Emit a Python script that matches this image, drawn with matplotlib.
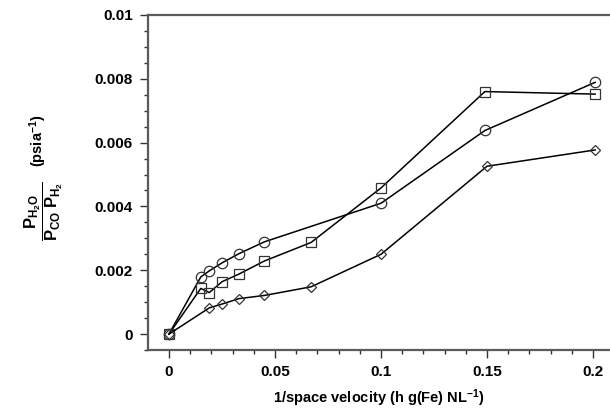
import matplotlib
matplotlib.use("Agg")
import matplotlib.pyplot as plt
from matplotlib.ticker import MultipleLocator, FuncFormatter

plt.rcParams['font.family'] = ['Liberation Sans', 'DejaVu Sans']
plt.rcParams['font.weight'] = 'bold'
plt.rcParams['mathtext.fontset'] = 'custom'
plt.rcParams['mathtext.rm'] = 'Liberation Sans:bold'
plt.rcParams['mathtext.it'] = 'Liberation Sans:bold'
plt.rcParams['mathtext.bf'] = 'Liberation Sans:bold'

# data
x_circle = [0, 0.015, 0.019, 0.025, 0.033, 0.045, 0.1, 0.149, 0.201]
y_circle = [0, 0.00179, 0.00198, 0.00223, 0.00252, 0.00289, 0.0041, 0.00638, 0.00789]

x_square = [0, 0.015, 0.019, 0.025, 0.033, 0.045, 0.067, 0.1, 0.149, 0.201]
y_square = [0, 0.00143, 0.0013, 0.00164, 0.00188, 0.00229, 0.00287, 0.00458, 0.0076, 0.00752]

x_diamond = [0, 0.019, 0.025, 0.033, 0.045, 0.067, 0.1, 0.15, 0.201]
y_diamond = [0, 0.00082, 0.00094, 0.00111, 0.00121, 0.00148, 0.0025, 0.00526, 0.00577]

x_ticks = [0, 0.05, 0.1, 0.15, 0.2]
y_ticks = [0, 0.002, 0.004, 0.006, 0.008, 0.01]

fig = plt.figure(figsize=(6.1, 4.13), dpi=100)
ax = fig.add_axes([148 / 610, 1 - 350 / 413, 1 - 148 / 610, (350 - 15) / 413])

line_kw = dict(color='black', lw=1.1, markerfacecolor='none', markeredgecolor='#333333',
               markeredgewidth=0.9)
ax.plot(x_circle, y_circle, marker='o', markersize=7.5, **line_kw)
ax.plot(x_square, y_square, marker='s', markersize=7.5, **line_kw)
ax.plot(x_diamond, y_diamond, marker='D', markersize=5.2, **line_kw)

ax.set_xlim(-0.0099, 0.208)
ax.set_ylim(-0.0005, 0.01)

ax.set_xticks(x_ticks)
ax.set_yticks(y_ticks)
ax.xaxis.set_minor_locator(MultipleLocator(0.01))
ax.yaxis.set_minor_locator(MultipleLocator(0.0005))


def fmt(v, pos):
    return ('%.3f' % v).rstrip('0').rstrip('.')


ax.xaxis.set_major_formatter(FuncFormatter(fmt))
ax.yaxis.set_major_formatter(FuncFormatter(fmt))

ax.spines['right'].set_visible(False)
for s in ['left', 'bottom', 'top']:
    ax.spines[s].set_color('#5a5a5a')
    ax.spines[s].set_linewidth(1.6)

ax.tick_params(which='major', direction='out', length=6, width=1.0, color='#333333',
               labelsize=11, pad=5)
ax.tick_params(which='minor', direction='out', length=3, width=1.0, color='#333333')
for lab in ax.get_xticklabels() + ax.get_yticklabels():
    lab.set_fontweight('bold')

ax.set_xlabel(r'1/space velocity (h g(Fe) NL$^{-1}$)', fontsize=10.5,
              fontweight='bold', labelpad=6)

# y label: fraction plus unit, placed as in the reference
fig.text(44 / 610, 1 - 211 / 413, r'$\dfrac{P_{H_2O}}{P_{CO}\;P_{H_2}}$',
         rotation=90, fontsize=12, ha='center', va='center')
fig.text(38 / 610, 1 - 141 / 413, r'(psia$^{-1}$)', rotation=90, fontsize=10.5,
         fontweight='bold', ha='center', va='center')

fig.savefig('out.png', dpi=100)
